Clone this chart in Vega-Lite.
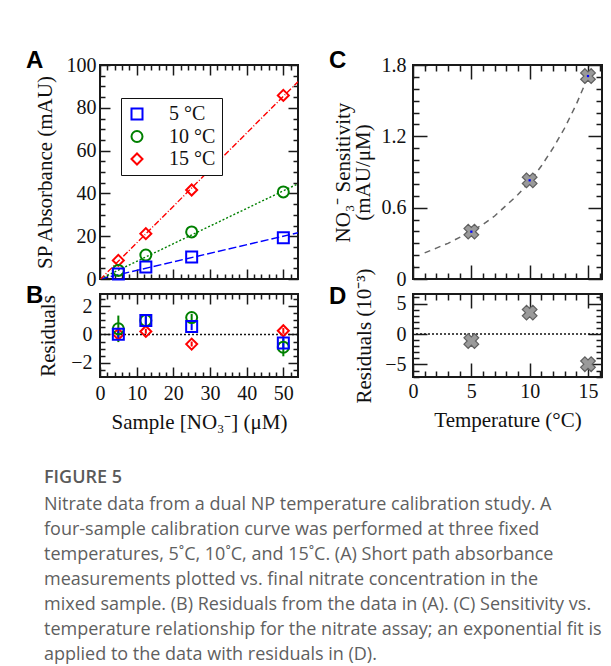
{
  "$schema": "https://vega.github.io/schema/vega-lite/v6.json",
  "padding": {"left": 25, "top": 48, "right": 0, "bottom": 0},
  "background": "white",
  "config": {
    "view": {"stroke": "#1a1a1a", "strokeWidth": 2},
    "axis": {"domain": false, "grid": false, "labelFont": "Liberation Serif", "labelFontSize": 20, "labelColor": "#111", "titleFont": "Liberation Serif", "titleFontSize": 21, "titleFontWeight": "normal", "titleColor": "#111", "tickColor": "#1a1a1a", "tickWidth": 1.5, "labelFlush": false, "labelOverlap": false, "labelBound": false}
  },
  "datasets": {
    "fits": [
      {"conc": 0, "temp": "5 °C", "abs": 0}, {"conc": 54, "temp": "5 °C", "abs": 21.6},
      {"conc": 0, "temp": "10 °C", "abs": 0}, {"conc": 54, "temp": "10 °C", "abs": 44.5},
      {"conc": 0, "temp": "15 °C", "abs": -0.3}, {"conc": 54, "temp": "15 °C", "abs": 92.2}
    ],
    "ptsA": [
      {"conc": 5, "temp": "15 °C", "abs": 8.7}, {"conc": 12.5, "temp": "15 °C", "abs": 21.2}, {"conc": 25, "temp": "15 °C", "abs": 41.6}, {"conc": 50, "temp": "15 °C", "abs": 85.8},
      {"conc": 5, "temp": "10 °C", "abs": 4.0}, {"conc": 12.5, "temp": "10 °C", "abs": 11.2}, {"conc": 25, "temp": "10 °C", "abs": 22.0}, {"conc": 50, "temp": "10 °C", "abs": 40.7},
      {"conc": 5, "temp": "5 °C", "abs": 2.3}, {"conc": 12.5, "temp": "5 °C", "abs": 5.6}, {"conc": 25, "temp": "5 °C", "abs": 10.3}, {"conc": 50, "temp": "5 °C", "abs": 19.3}
    ],
    "res": [
      {"conc": 5, "temp": "15 °C", "res": 0.02, "lo": -0.15, "hi": 0.2}, {"conc": 12.5, "temp": "15 °C", "res": 0.21, "lo": 0.05, "hi": 0.4}, {"conc": 25, "temp": "15 °C", "res": -0.68, "lo": -0.85, "hi": -0.5}, {"conc": 50, "temp": "15 °C", "res": 0.26, "lo": 0.05, "hi": 0.45},
      {"conc": 5, "temp": "10 °C", "res": 0.4, "lo": -0.54, "hi": 1.33}, {"conc": 12.5, "temp": "10 °C", "res": 0.98, "lo": 0.7, "hi": 1.25}, {"conc": 25, "temp": "10 °C", "res": 1.19, "lo": 0.9, "hi": 1.45}, {"conc": 50, "temp": "10 °C", "res": -0.9, "lo": -1.54, "hi": -0.3},
      {"conc": 5, "temp": "5 °C", "res": 0.02, "lo": -0.35, "hi": 0.4}, {"conc": 12.5, "temp": "5 °C", "res": 0.98, "lo": 0.65, "hi": 1.3}, {"conc": 25, "temp": "5 °C", "res": 0.56, "lo": 0.3, "hi": 0.85}, {"conc": 50, "temp": "5 °C", "res": -0.61, "lo": -1.0, "hi": -0.25}
    ],
    "zero": [{"v": 0}],
    "sens": [{"T": 5, "s": 0.398}, {"T": 10, "s": 0.83}, {"T": 15, "s": 1.707}],
    "curve": [
      {"T": 1, "s": 0.22}, {"T": 2, "s": 0.26}, {"T": 3, "s": 0.3}, {"T": 4, "s": 0.35}, {"T": 5, "s": 0.4},
      {"T": 6, "s": 0.46}, {"T": 7, "s": 0.53}, {"T": 8, "s": 0.62}, {"T": 9, "s": 0.71}, {"T": 10, "s": 0.82},
      {"T": 11, "s": 0.95}, {"T": 12, "s": 1.1}, {"T": 13, "s": 1.27}, {"T": 14, "s": 1.47}, {"T": 15, "s": 1.7}, {"T": 15.2, "s": 1.75}
    ],
    "sres": [{"T": 5, "r": -1.15}, {"T": 10, "r": 3.5}, {"T": 15, "r": -4.95}]
  },
  "title": {
    "text": "FIGURE 5",
    "subtitle": [
      "Nitrate data from a dual NP temperature calibration study. A",
      "four-sample calibration curve was performed at three fixed",
      "temperatures, 5˚C, 10˚C, and 15˚C. (A) Short path absorbance",
      "measurements plotted vs. final nitrate concentration in the",
      "mixed sample. (B) Residuals from the data in (A). (C) Sensitivity vs.",
      "temperature relationship for the nitrate assay; an exponential fit is",
      "applied to the data with residuals in (D)."
    ],
    "orient": "bottom", "anchor": "start", "frame": "bounds", "offset": 36, "dx": 19,
    "font": "Open Sans", "fontSize": 18, "fontWeight": 600, "color": "#5a5a5a",
    "subtitleFont": "Open Sans", "subtitleFontSize": 18, "subtitleColor": "#5f5f5f", "subtitleLineHeight": 25, "subtitlePadding": 9
  },
  "columns": 2,
  "spacing": {"row": 15, "column": 115},
  "bounds": "flush",
  "concat": [
    {
      "width": 198, "height": 214,
      "title": {"text": "A", "anchor": "start", "frame": "group", "orient": "top", "offset": 0, "dx": -74, "dy": 37, "baseline": "alphabetic", "font": "Liberation Sans", "fontWeight": "bold", "fontSize": 24, "color": "#000"},
      "layer": [
        {
          "data": {"name": "fits"},
          "transform": [{"filter": "datum.temp === '5 °C'"}],
          "mark": {"type": "line", "color": "#0000ff", "strokeWidth": 1.4, "strokeDash": [8, 3], "clip": true},
          "encoding": {
            "x": {"field": "conc", "type": "quantitative", "scale": {"domain": [0, 54], "nice": false, "zero": false}, "axis": {"orient": "bottom", "values": [0, 10, 20, 30, 40, 50], "tickSize": 10, "offset": -10, "labels": false, "title": null}},
            "y": {"field": "abs", "type": "quantitative", "scale": {"domain": [0, 100], "nice": false}, "axis": {"orient": "left", "values": [0, 20, 40, 60, 80, 100], "tickSize": 10, "offset": -10, "labelPadding": 4, "title": "SP Absorbance (mAU)", "titlePadding": 11}}
          }
        },
        {
          "data": {"name": "fits"},
          "transform": [{"filter": "datum.temp === '10 °C'"}],
          "mark": {"type": "line", "color": "#008000", "strokeWidth": 1.4, "strokeDash": [2, 2], "clip": true},
          "encoding": {
            "x": {"field": "conc", "type": "quantitative", "axis": {"orient": "bottom", "values": [2, 4, 6, 8, 12, 14, 16, 18, 22, 24, 26, 28, 32, 34, 36, 38, 42, 44, 46, 48, 52], "tickSize": 5, "offset": -5, "labels": false, "title": null}},
            "y": {"field": "abs", "type": "quantitative", "axis": {"orient": "left", "values": [5, 10, 15, 25, 30, 35, 45, 50, 55, 65, 70, 75, 85, 90, 95], "tickSize": 5, "offset": -5, "labels": false, "title": null}}
          }
        },
        {
          "data": {"name": "fits"},
          "transform": [{"filter": "datum.temp === '15 °C'"}],
          "mark": {"type": "line", "color": "#ff0000", "strokeWidth": 1.4, "strokeDash": [6, 2, 1, 2], "clip": true},
          "encoding": {
            "x": {"field": "conc", "type": "quantitative", "axis": {"orient": "top", "values": [0, 10, 20, 30, 40, 50], "tickSize": 10, "offset": -10, "labels": false, "title": null}},
            "y": {"field": "abs", "type": "quantitative", "axis": {"orient": "right", "values": [0, 20, 40, 60, 80, 100], "tickSize": 10, "offset": -10, "labels": false, "title": null}}
          }
        },
        {
          "data": {"name": "ptsA"},
          "mark": {"type": "point", "filled": false, "strokeWidth": 2, "opacity": 1},
          "encoding": {
            "x": {"field": "conc", "type": "quantitative", "axis": {"orient": "top", "values": [2, 4, 6, 8, 12, 14, 16, 18, 22, 24, 26, 28, 32, 34, 36, 38, 42, 44, 46, 48, 52], "tickSize": 5, "offset": -5, "labels": false, "title": null}},
            "y": {"field": "abs", "type": "quantitative", "axis": {"orient": "right", "values": [5, 10, 15, 25, 30, 35, 45, 50, 55, 65, 70, 75, 85, 90, 95], "tickSize": 5, "offset": -5, "labels": false, "title": null}},
            "color": {"field": "temp", "type": "nominal", "scale": {"domain": ["5 °C", "10 °C", "15 °C"], "range": ["#0000ff", "#008000", "#ff0000"]},
              "legend": {"orient": "none", "legendX": 21, "legendY": 33, "title": null, "strokeColor": "#111", "fillColor": "white", "padding": 6, "rowPadding": 2.5, "labelOffset": 22, "labelFont": "Liberation Serif", "labelFontSize": 20, "labelColor": "#111", "symbolStrokeWidth": 2}},
            "shape": {"field": "temp", "type": "nominal", "scale": {"domain": ["5 °C", "10 °C", "15 °C"], "range": ["square", "circle", "diamond"]},
              "legend": {"orient": "none", "legendX": 21, "legendY": 33, "title": null, "strokeColor": "#111", "fillColor": "white", "padding": 6, "rowPadding": 2.5, "labelOffset": 22, "labelFont": "Liberation Serif", "labelFontSize": 20, "labelColor": "#111", "symbolStrokeWidth": 2}},
            "size": {"field": "temp", "type": "nominal", "scale": {"domain": ["5 °C", "10 °C", "15 °C"], "range": [121, 121, 190]},
              "legend": {"orient": "none", "legendX": 21, "legendY": 33, "title": null, "strokeColor": "#111", "fillColor": "white", "padding": 6, "rowPadding": 2.5, "labelOffset": 22, "labelFont": "Liberation Serif", "labelFontSize": 20, "labelColor": "#111", "symbolStrokeWidth": 2}}
          }
        }
      ],
      "resolve": {"axis": {"x": "independent", "y": "independent"}}
    },
    {
      "width": 189, "height": 214,
      "title": {"text": "C", "anchor": "start", "frame": "group", "orient": "top", "offset": 0, "dx": -84, "dy": 37, "baseline": "alphabetic", "font": "Liberation Sans", "fontWeight": "bold", "fontSize": 24, "color": "#000"},
      "layer": [
        {
          "data": {"name": "curve"},
          "mark": {"type": "line", "color": "#666666", "strokeWidth": 1.5, "strokeDash": [6, 5], "clip": true},
          "encoding": {
            "x": {"field": "T", "type": "quantitative", "scale": {"domain": [0, 16.2], "nice": false, "zero": false}, "axis": {"orient": "bottom", "values": [0, 5, 10, 15], "tickSize": 14, "offset": -14, "labels": false, "title": null}},
            "y": {"field": "s", "type": "quantitative", "scale": {"domain": [0, 1.8], "nice": false}, "axis": {"orient": "left", "values": [0, 0.6, 1.2, 1.8], "format": "~g", "tickSize": 14, "offset": -14, "labelPadding": 7, "title": ["NO₃⁻ Sensitivity", "(mAU/μM)"], "titleLineHeight": 20, "titlePadding": 8}}
          }
        },
        {
          "data": {"name": "sens"},
          "mark": {"type": "point", "shape": "cross", "angle": 45, "size": 220, "filled": true, "fill": "#9a9a9a", "stroke": "#5f5f5f", "strokeWidth": 1.2, "opacity": 1},
          "encoding": {
            "x": {"field": "T", "type": "quantitative", "axis": {"orient": "bottom", "values": [1, 2, 3, 4, 6, 7, 8, 9, 11, 12, 13, 14, 16], "tickSize": 6, "offset": -6, "labels": false, "title": null}},
            "y": {"field": "s", "type": "quantitative", "axis": {"orient": "left", "values": [0.1, 0.2, 0.3, 0.4, 0.5, 0.7, 0.8, 0.9, 1.0, 1.1, 1.3, 1.4, 1.5, 1.6, 1.7], "tickSize": 6, "offset": -6, "labels": false, "title": null}}
          }
        },
        {
          "data": {"name": "sens"},
          "mark": {"type": "point", "shape": "square", "size": 5, "filled": true, "color": "#0000ff", "opacity": 1},
          "encoding": {
            "x": {"field": "T", "type": "quantitative", "axis": {"orient": "top", "values": [0, 5, 10, 15], "tickSize": 14, "offset": -14, "labels": false, "title": null}},
            "y": {"field": "s", "type": "quantitative", "axis": {"orient": "right", "values": [0, 0.6, 1.2, 1.8], "tickSize": 14, "offset": -14, "labels": false, "title": null}}
          }
        },
        {
          "data": {"name": "sens"},
          "mark": {"type": "point", "opacity": 0},
          "encoding": {
            "x": {"field": "T", "type": "quantitative", "axis": {"orient": "top", "values": [1, 2, 3, 4, 6, 7, 8, 9, 11, 12, 13, 14, 16], "tickSize": 6, "offset": -6, "labels": false, "title": null}},
            "y": {"field": "s", "type": "quantitative", "axis": {"orient": "right", "values": [0.1, 0.2, 0.3, 0.4, 0.5, 0.7, 0.8, 0.9, 1.0, 1.1, 1.3, 1.4, 1.5, 1.6, 1.7], "tickSize": 6, "offset": -6, "labels": false, "title": null}}
          }
        }
      ],
      "resolve": {"axis": {"x": "independent", "y": "independent"}}
    },
    {
      "width": 198, "height": 83,
      "title": {"text": "B", "anchor": "start", "frame": "group", "orient": "top", "offset": 0, "dx": -74, "dy": 34, "baseline": "alphabetic", "font": "Liberation Sans", "fontWeight": "bold", "fontSize": 24, "color": "#000"},
      "layer": [
        {
          "data": {"name": "zero"},
          "mark": {"type": "rule", "color": "#111", "strokeWidth": 1.5, "strokeDash": [2, 2]},
          "encoding": {
            "y": {"field": "v", "type": "quantitative", "scale": {"domain": [-3, 2.85], "nice": false, "zero": false}, "axis": {"orient": "left", "values": [-2, 0, 2], "tickSize": 10, "offset": -10, "labelPadding": 8, "title": "Residuals", "titlePadding": 12}}
          }
        },
        {
          "data": {"name": "res"},
          "mark": {"type": "rule", "strokeWidth": 2},
          "encoding": {
            "x": {"field": "conc", "type": "quantitative", "scale": {"domain": [0, 54], "nice": false, "zero": false}, "axis": {"orient": "bottom", "values": [0, 10, 20, 30, 40, 50], "tickSize": 10, "offset": -10, "labelPadding": 6, "title": "Sample [NO₃⁻] (μM)", "titlePadding": 8}},
            "y": {"field": "lo", "type": "quantitative", "axis": {"orient": "left", "values": [-2.5, -1.5, -1, -0.5, 0.5, 1, 1.5, 2.5], "tickSize": 5, "offset": -5, "labels": false, "title": null}},
            "y2": {"field": "hi"},
            "color": {"field": "temp", "type": "nominal", "scale": {"domain": ["5 °C", "10 °C", "15 °C"], "range": ["#0000ff", "#008000", "#ff0000"]}, "legend": null}
          }
        },
        {
          "data": {"name": "res"},
          "mark": {"type": "point", "filled": false, "strokeWidth": 2, "opacity": 1},
          "encoding": {
            "x": {"field": "conc", "type": "quantitative", "axis": {"orient": "bottom", "values": [2, 4, 6, 8, 12, 14, 16, 18, 22, 24, 26, 28, 32, 34, 36, 38, 42, 44, 46, 48, 52], "tickSize": 5, "offset": -5, "labels": false, "title": null}},
            "y": {"field": "res", "type": "quantitative", "axis": {"orient": "right", "values": [-2, 0, 2], "tickSize": 10, "offset": -10, "labels": false, "title": null}},
            "color": {"field": "temp", "type": "nominal", "legend": null},
            "shape": {"field": "temp", "type": "nominal", "scale": {"domain": ["5 °C", "10 °C", "15 °C"], "range": ["square", "circle", "diamond"]}, "legend": null},
            "size": {"field": "temp", "type": "nominal", "scale": {"domain": ["5 °C", "10 °C", "15 °C"], "range": [121, 121, 190]}, "legend": null}
          }
        },
        {
          "data": {"name": "res"},
          "mark": {"type": "point", "opacity": 0},
          "encoding": {
            "x": {"field": "conc", "type": "quantitative", "axis": {"orient": "top", "values": [0, 10, 20, 30, 40, 50], "tickSize": 10, "offset": -10, "labels": false, "title": null}},
            "y": {"field": "res", "type": "quantitative", "axis": {"orient": "right", "values": [-2.5, -1.5, -1, -0.5, 0.5, 1, 1.5, 2.5], "tickSize": 5, "offset": -5, "labels": false, "title": null}}
          }
        },
        {
          "data": {"name": "res"},
          "mark": {"type": "point", "opacity": 0},
          "encoding": {
            "x": {"field": "conc", "type": "quantitative", "axis": {"orient": "top", "values": [2, 4, 6, 8, 12, 14, 16, 18, 22, 24, 26, 28, 32, 34, 36, 38, 42, 44, 46, 48, 52], "tickSize": 5, "offset": -5, "labels": false, "title": null}},
            "y": {"field": "res", "type": "quantitative", "axis": null}
          }
        }
      ],
      "resolve": {"axis": {"x": "independent", "y": "independent"}}
    },
    {
      "width": 189, "height": 83,
      "title": {"text": "D", "anchor": "start", "frame": "group", "orient": "top", "offset": 0, "dx": -84, "dy": 60, "baseline": "alphabetic", "font": "Liberation Sans", "fontWeight": "bold", "fontSize": 24, "color": "#000"},
      "layer": [
        {
          "data": {"name": "zero"},
          "mark": {"type": "rule", "color": "#111", "strokeWidth": 1.5, "strokeDash": [2, 2]},
          "encoding": {
            "y": {"field": "v", "type": "quantitative", "scale": {"domain": [-7.05, 6.56], "nice": false, "zero": false}, "axis": {"orient": "left", "values": [-5, 0, 5], "tickSize": 14, "offset": -14, "labelPadding": 7, "title": "Residuals (10⁻³)", "titlePadding": 10}}
          }
        },
        {
          "data": {"name": "sres"},
          "mark": {"type": "point", "shape": "cross", "angle": 45, "size": 220, "filled": true, "fill": "#9a9a9a", "stroke": "#5f5f5f", "strokeWidth": 1.2, "opacity": 1},
          "encoding": {
            "x": {"field": "T", "type": "quantitative", "scale": {"domain": [0, 16.2], "nice": false, "zero": false}, "axis": {"orient": "bottom", "values": [0, 5, 10, 15], "tickSize": 14, "offset": -14, "labelPadding": 4, "title": "Temperature (°C)", "titlePadding": 8}},
            "y": {"field": "r", "type": "quantitative", "axis": {"orient": "left", "values": [-7, -6, -4, -3, -2, -1, 1, 2, 3, 4, 6], "tickSize": 6, "offset": -6, "labels": false, "title": null}}
          }
        },
        {
          "data": {"name": "sres"},
          "mark": {"type": "point", "opacity": 0},
          "encoding": {
            "x": {"field": "T", "type": "quantitative", "axis": {"orient": "bottom", "values": [1, 2, 3, 4, 6, 7, 8, 9, 11, 12, 13, 14, 16], "tickSize": 6, "offset": -6, "labels": false, "title": null}},
            "y": {"field": "r", "type": "quantitative", "axis": {"orient": "right", "values": [-5, 0, 5], "tickSize": 14, "offset": -14, "labels": false, "title": null}}
          }
        },
        {
          "data": {"name": "sres"},
          "mark": {"type": "point", "opacity": 0},
          "encoding": {
            "x": {"field": "T", "type": "quantitative", "axis": {"orient": "top", "values": [0, 5, 10, 15], "tickSize": 14, "offset": -14, "labels": false, "title": null}},
            "y": {"field": "r", "type": "quantitative", "axis": {"orient": "right", "values": [-7, -6, -4, -3, -2, -1, 1, 2, 3, 4, 6], "tickSize": 6, "offset": -6, "labels": false, "title": null}}
          }
        },
        {
          "data": {"name": "sres"},
          "mark": {"type": "point", "opacity": 0},
          "encoding": {
            "x": {"field": "T", "type": "quantitative", "axis": {"orient": "top", "values": [1, 2, 3, 4, 6, 7, 8, 9, 11, 12, 13, 14, 16], "tickSize": 6, "offset": -6, "labels": false, "title": null}},
            "y": {"field": "r", "type": "quantitative", "axis": null}
          }
        }
      ],
      "resolve": {"axis": {"x": "independent", "y": "independent"}}
    }
  ]
}
